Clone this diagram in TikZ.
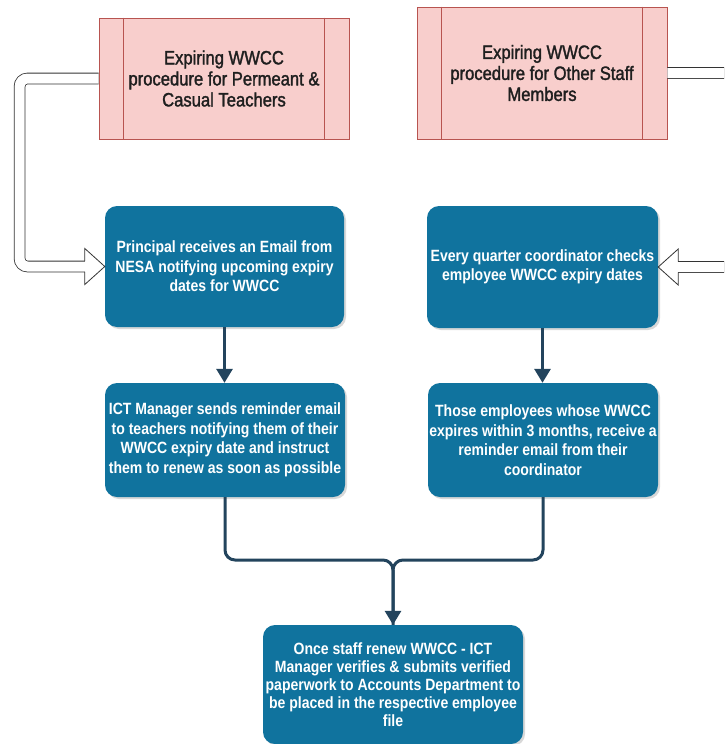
\documentclass[tikz,border=0pt]{standalone}
\usepackage{fontspec}
\setmainfont{Liberation Sans}
\newfontfamily\dfont[FakeStretch=0.86]{Liberation Sans}
\newfontfamily\pfont[FakeStretch=0.86,FakeBold=1.6]{Liberation Sans}
\usetikzlibrary{arrows.meta,shadows,calc}
\definecolor{bluefill}{HTML}{10739E}
\definecolor{pinkfill}{HTML}{F8CECC}
\definecolor{pinkdraw}{HTML}{B85450}
\definecolor{conncol}{HTML}{23445D}
\begin{document}
\begin{tikzpicture}[x=1pt,y=-1pt,
  bluebox/.style={rectangle, rounded corners=12pt, fill=bluefill, text=white,
    font=\dfont\bfseries\fontsize{16.3}{19.5}\selectfont, align=center, inner sep=0pt,
    drop shadow={shadow xshift=2pt,shadow yshift=-2pt,opacity=0.3}},
  pinkbox/.style={rectangle, fill=pinkfill, draw=pinkdraw, line width=0.8pt,
    text=black!88, font=\pfont\fontsize{19.3}{21}\selectfont, align=center,
    inner sep=0pt, minimum width=250pt},
  pinkline/.style={draw=pinkdraw, line width=0.8pt},
  conn/.style={draw=conncol, line width=3pt, rounded corners=10pt},
  conntip/.style={-{Triangle[width=16pt,length=14pt]}},
  hollow/.style={draw=black!80, line width=0.8pt, double=white, double distance=10pt, rounded corners=8pt},
  hollowhead/.style={draw=black!80, line width=0.8pt, line join=miter}
]
\clip (0,0) rectangle (724,744);
\fill[white] (0,0) rectangle (724,744);

% pink process boxes
\node[pinkbox, minimum height=121pt] (p1) at (224,78.5) {Expiring WWCC\\procedure for Permeant \&\\Casual Teachers};
\draw[pinkline] ($(p1.north west)+(25,0)$) -- ($(p1.south west)+(25,0)$);
\draw[pinkline] ($(p1.north east)+(-25,0)$) -- ($(p1.south east)+(-25,0)$);

\node[pinkbox, minimum height=132pt] (p2) at (542,73) {Expiring WWCC\\procedure for Other Staff\\Members};
\draw[pinkline] ($(p2.north west)+(25,0)$) -- ($(p2.south west)+(25,0)$);
\draw[pinkline] ($(p2.north east)+(-25,0)$) -- ($(p2.south east)+(-25,0)$);

% blue boxes
\node[bluebox, minimum width=239pt, minimum height=121pt] (b1) at (224.5,266.5)
  {Principal receives an Email from\\NESA notifying upcoming expiry\\dates for WWCC};
\node[bluebox, minimum width=231pt, minimum height=122pt] (b2) at (542.5,267)
  {Every quarter coordinator checks\\employee WWCC expiry dates};
\node[bluebox, minimum width=240pt, minimum height=114pt] (b3) at (225,440)
  {ICT Manager sends reminder email\\to teachers notifying them of their\\WWCC expiry date and instruct\\them to renew as soon as possible};
\node[bluebox, minimum width=230pt, minimum height=114pt] (b4) at (543,440)
  {Those employees whose WWCC\\expires within 3 months, receive a\\reminder email from their\\coordinator};
\node[bluebox, minimum width=260pt, minimum height=119pt, font=\dfont\bfseries\fontsize{16.3}{18}\selectfont] (b5) at (393,684.5)
  {Once staff renew WWCC - ICT\\Manager verifies \& submits verified\\paperwork to Accounts Department to\\be placed in the respective employee\\file};

% hollow arrows
\draw[hollow] (p1.west) -- ($(p1.west)+(-79,0)$) |- ($(b1.west)+(-20,0)$);
\draw[hollowhead] ($(b1.west)+(-20,-5.4)$) -- ++(0,-12.6) -- (b1.west) -- ($(b1.west)+(-20,18)$) -- ++(0,-12.6);

\draw[hollow] (p2.east) -- ($(p2.east)+(80,0)$) |- ($(b2.east)+(20,0)$);
\draw[hollowhead] ($(b2.east)+(20,-5.4)$) -- ++(0,-12.6) -- (b2.east) -- ($(b2.east)+(20,18)$) -- ++(0,-12.6);

% connectors
\draw[conn, conntip] (b1.south) -- (b1.south |- b3.north);
\draw[conn, conntip] (b2.south) -- (b2.south |- b4.north);
\coordinate (m) at (393,560);
\draw[conn] (b3.south) |- (m) -- (b5.north);
\draw[conn, conntip] (b4.south) |- (m) -- (b5.north);
\end{tikzpicture}
\end{document}
